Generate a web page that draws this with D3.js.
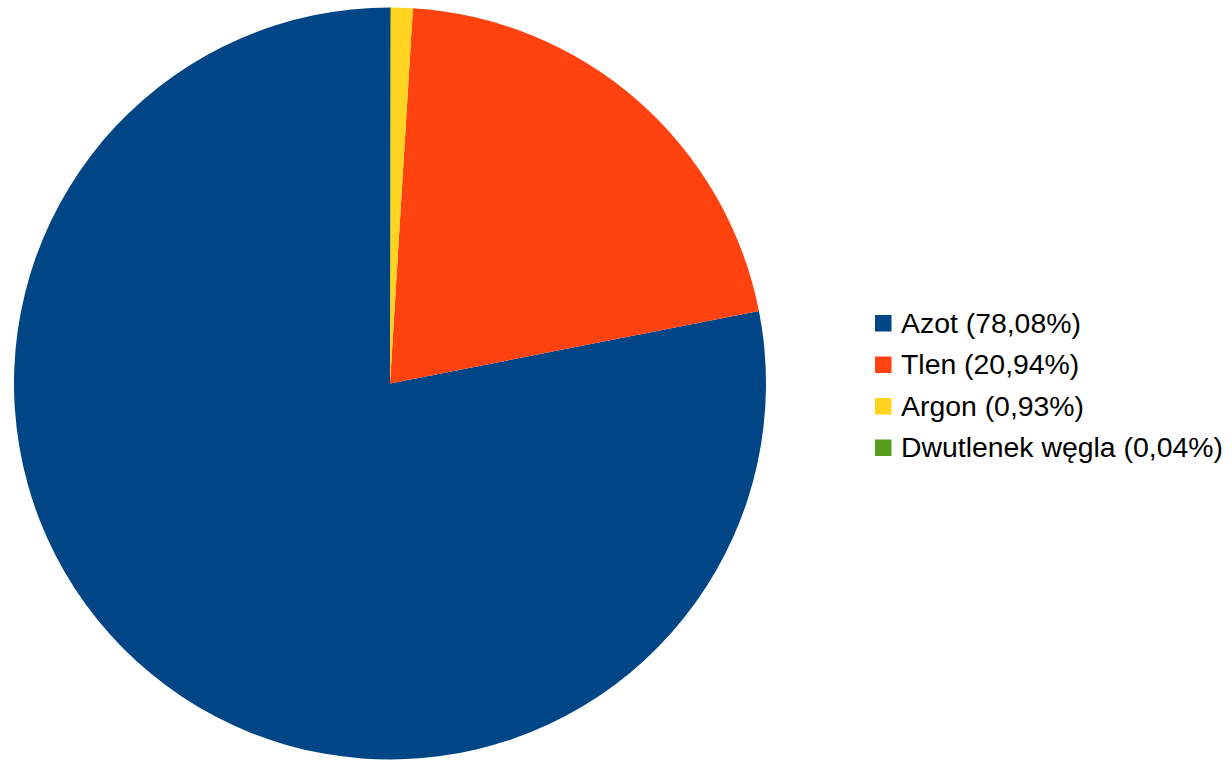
<!DOCTYPE html>
<html>
<head>
<meta charset="utf-8">
<script src="https://cdn.jsdelivr.net/npm/d3@7"></script>
<style>
  html, body { margin: 0; padding: 0; background: #fff; }
  svg { display: block; }
</style>
</head>
<body>
<svg></svg>
<script>
(function airPie() {
  // Data
  const names = ["Azot", "Tlen", "Argon", "Dwutlenek węgla"];
  const values = [78.08, 20.94, 0.93, 0.04];
  const labels = ["78,08%", "20,94%", "0,93%", "0,04%"];
  const colors = ["#004586", "#ff420e", "#ffd320", "#579d1c"];

  const width = 1232, height = 760;
  const svg = d3.select("svg")
      .attr("width", width)
      .attr("height", height);

  const cx = 390, cy = 383.5, radius = 376;

  const data = names.map((n, i) => ({name: n, value: values[i], label: labels[i], color: colors[i]}));

  // LibreOffice draws counter-clockwise from 12 o'clock
  const pie = d3.pie()
      .sort(null)
      .value(d => d.value)
      .startAngle(2 * Math.PI)
      .endAngle(0);

  const arc = d3.arc()
      .innerRadius(0)
      .outerRadius(radius);

  svg.append("g")
      .attr("transform", `translate(${cx},${cy})`)
      .selectAll("path")
      .data(pie(data))
      .join("path")
      .attr("d", arc)
      .attr("fill", d => d.data.color)
      .attr("stroke", "none");

  // Legend
  const legend = svg.append("g")
      .attr("transform", "translate(875,315)");

  const rows = legend.selectAll("g")
      .data(data)
      .join("g")
      .attr("transform", (d, i) => `translate(0,${i * 41.5})`);

  rows.append("rect")
      .attr("width", 16.5)
      .attr("height", 16.5)
      .attr("fill", d => d.color);

  rows.append("text")
      .attr("x", 26)
      .attr("y", 17.5)
      .style("font-family", "'Liberation Sans', Arial, sans-serif")
      .style("font-size", "28.4px")
      .style("fill", "#000")
      .text(d => `${d.name} (${d.label})`);
})();
</script>
</body>
</html>
